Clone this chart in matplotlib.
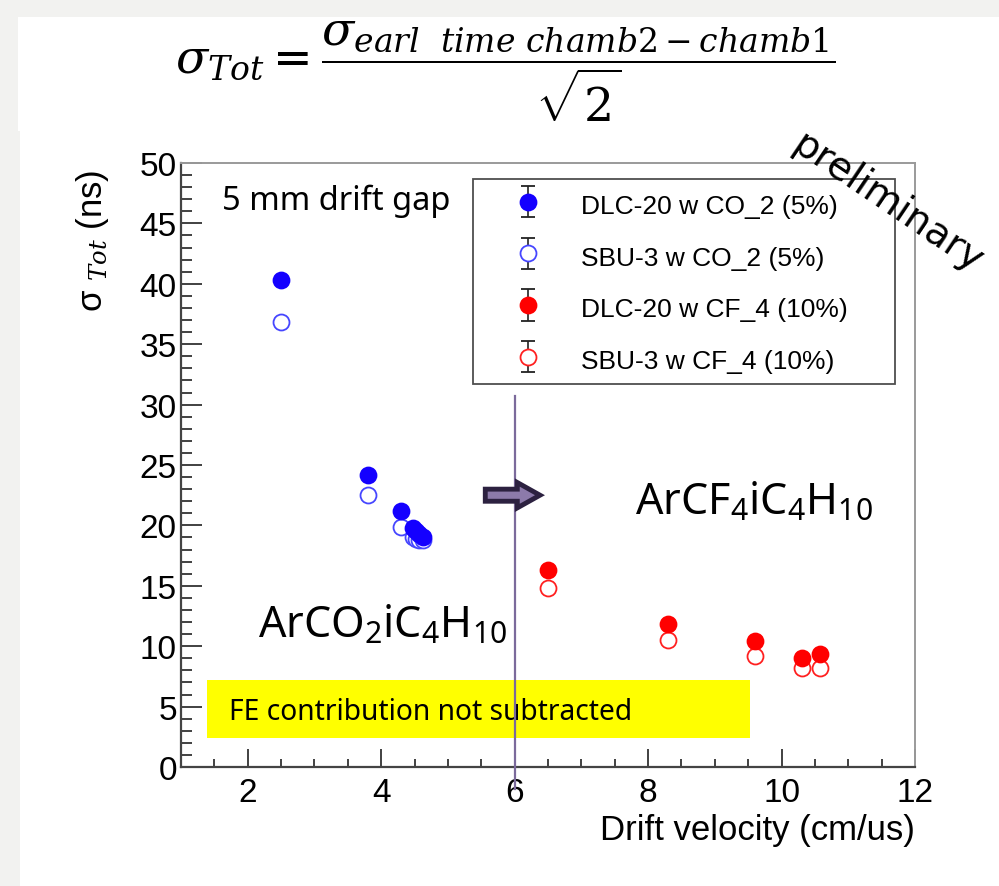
import numpy as np
import matplotlib
matplotlib.use('Agg')
import matplotlib.pyplot as plt
from matplotlib.patches import Rectangle, FancyArrow
from matplotlib.legend_handler import HandlerErrorbar
from matplotlib.container import ErrorbarContainer

plt.rcParams['font.family'] = ['Liberation Sans', 'DejaVu Sans']
plt.rcParams['mathtext.fontset'] = 'custom'
plt.rcParams['mathtext.rm'] = 'DejaVu Serif'
plt.rcParams['mathtext.it'] = 'DejaVu Serif:italic'
plt.rcParams['mathtext.sf'] = 'Noto Sans'

# data
vel_dlc_co2 = [2.5, 3.8, 4.3, 4.48, 4.52, 4.57, 4.62]
sig_dlc_co2 = [40.3, 24.2, 21.2, 19.8, 19.5, 19.3, 19.0]
vel_sbu_co2 = [2.5, 3.8, 4.3, 4.48, 4.52, 4.57, 4.62]
sig_sbu_co2 = [36.8, 22.5, 19.9, 19.0, 18.9, 18.8, 18.8]

vel_dlc_cf4 = [6.5, 8.3, 9.6, 10.3, 10.57]
sig_dlc_cf4 = [16.3, 11.8, 10.4, 9.0, 9.35]
vel_sbu_cf4 = [6.5, 8.3, 9.6, 10.3, 10.57]
sig_sbu_cf4 = [14.8, 10.5, 9.2, 8.2, 8.2]

labels = ['DLC-20 w CO_2 (5%)', 'SBU-3 w CO_2 (5%)',
          'DLC-20 w CF_4 (10%)', 'SBU-3 w CF_4 (10%)']

fig = plt.figure(figsize=(9.99, 8.87), dpi=100, facecolor='#f2f2f0')
W, H = 999.0, 887.0
# white slide areas
fig.patches.append(Rectangle((18 / W, 1 - 132 / H), 1, 114 / H, transform=fig.transFigure,
                             facecolor='white', edgecolor='none', zorder=-10))
fig.patches.append(Rectangle((20 / W, 0), 1, 1 - 132 / H, transform=fig.transFigure,
                             facecolor='white', edgecolor='none', zorder=-10))

ax = fig.add_axes([181 / W, 1 - 768 / H, 734 / W, 604 / H])
ax.set_facecolor('white')

def draw(x, y, col, filled, lab, z):
    c = ax.errorbar(x, y, yerr=np.zeros(len(y)), fmt='o', ms=11.5,
                    mfc=col if filled else 'white', mec=col, mew=1.3,
                    ecolor='#222222', elinewidth=1.2, capsize=5.2, capthick=1.2,
                    label=lab, zorder=z)
    for cl in c[1]:
        cl.set_zorder(1)
    for bc in c[2]:
        bc.set_zorder(1)
    return c

# open markers first so the filled ones sit on top
h2 = draw(vel_sbu_co2, sig_sbu_co2, '#4646ff', False, labels[1], 4)
h1 = draw(vel_dlc_co2, sig_dlc_co2, '#1400ff', True, labels[0], 5)
h4 = draw(vel_sbu_cf4, sig_sbu_cf4, '#ff2020', False, labels[3], 4)
h3 = draw(vel_dlc_cf4, sig_dlc_cf4, '#ff0000', True, labels[2], 5)

ax.set_xlim(1, 12)
ax.set_ylim(0, 50)
ax.set_xticks([2, 4, 6, 8, 10, 12])
ax.set_xticks(np.arange(1.5, 12, 0.5), minor=True)
ax.set_yticks(np.arange(0, 51, 5))
ax.set_yticks(np.arange(0, 51, 1), minor=True)
ax.tick_params(axis='both', which='both', direction='in', color='#333333', width=1.3,
               labelsize=24, top=False, right=False)
ax.tick_params(axis='x', which='major', length=13, pad=7)
ax.tick_params(axis='x', which='minor', length=6)
ax.tick_params(axis='y', which='major', length=15, pad=3)
ax.tick_params(axis='y', which='minor', length=8)
for s in ['left', 'bottom']:
    ax.spines[s].set_color('#444444')
    ax.spines[s].set_linewidth(1.6)
for s in ['top', 'right']:
    ax.spines[s].set_color('#9a9a9a')
    ax.spines[s].set_linewidth(1.4)

ax.set_xlabel('Drift velocity (cm/us)', fontsize=25, ha='right', x=1.0, labelpad=4)
ax.text(-0.12, 0.99, 'σ $_{Tot}$ (ns)', transform=ax.transAxes, rotation=90,
        ha='center', va='top', fontsize=25)

# yellow note
ax.add_patch(Rectangle((1.39, 2.4), 8.14, 4.8, facecolor='#ffff00', edgecolor='none', zorder=2))
ax.text(1.72, 4.6, 'FE contribution not subtracted', fontsize=20.3, family='Noto Sans',
        va='center', ha='left', zorder=3)

# divider line and arrow
ax.plot([6, 6], [30.7, -1.8], color='#7b6a9b', lw=1.6, clip_on=False, zorder=3)
ax.add_patch(FancyArrow(5.56, 22.5, 0.82, 0, width=1.0, head_width=2.1, head_length=0.34,
                        length_includes_head=True, facecolor='#8c7aaa', edgecolor='#2c2140',
                        linewidth=3.5, zorder=3))

ax.text(1.61, 46.9, '5 mm drift gap', fontsize=23.5, family='Noto Sans', va='center', ha='left')
ax.text(2.15, 11.7, r'ArCO$_\mathsf{2}$iC$_\mathsf{4}$H$_\mathsf{10}$', fontsize=31,
        family='Noto Sans', va='center', ha='left')
ax.text(7.8, 21.9, r'ArCF$_\mathsf{4}$iC$_\mathsf{4}$H$_\mathsf{10}$', fontsize=31,
        family='Noto Sans', va='center', ha='left')

leg = ax.legend(handles=[h1, h2, h3, h4], labels=labels, loc='upper left',
                bbox_to_anchor=(0.398, 0.631, 0.575, 0.342), mode='expand',
                fontsize=19, frameon=True, fancybox=False, markerscale=1.0,
                handleheight=1.2, handlelength=3.3, labelspacing=0.92, borderpad=0.42,
                handletextpad=0.35, borderaxespad=0,
                handler_map={ErrorbarContainer: HandlerErrorbar(yerr_size=0.59)})
leg.get_frame().set_edgecolor('#222222')
leg.get_frame().set_linewidth(1.3)
leg.set_zorder(6)

# formula on top
fig.text(505 / W, 1 - 72 / H,
         r'$\sigma_{Tot} = \dfrac{\sigma_{earl\ \ time\ chamb2-chamb1}}{\sqrt{2}}$',
         ha='center', va='center', fontsize=34)

fig.text(888 / W, 1 - 203 / H, 'preliminary', rotation=-34, fontsize=28,
         family='DejaVu Sans', ha='center', va='center')

fig.savefig('out.png', dpi=100, facecolor=fig.get_facecolor())
